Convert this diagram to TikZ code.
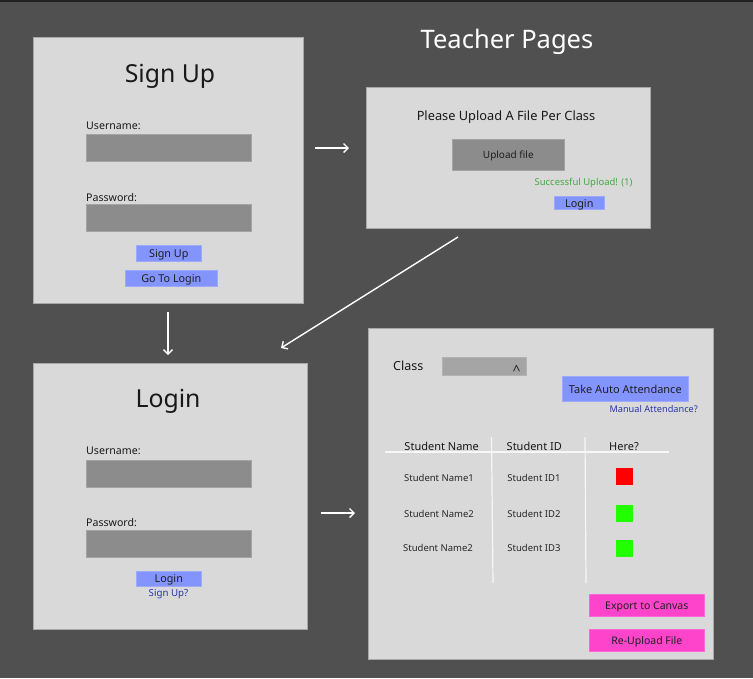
\documentclass[tikz,border=0pt]{standalone}
\usepackage{fontspec}
\setmainfont{Noto Sans}
\usetikzlibrary{arrows.meta}

\definecolor{bg}{HTML}{505050}
\definecolor{topbar}{HTML}{222222}
\definecolor{panel}{HTML}{D9D9D9}
\definecolor{paneledge}{HTML}{A8A8A8}
\definecolor{field}{HTML}{8C8C8C}
\definecolor{dropdown}{HTML}{A5A5A5}
\definecolor{btn}{HTML}{8494FF}
\definecolor{pinkbtn}{HTML}{FF44CC}
\definecolor{linkblue}{HTML}{2A36A8}
\definecolor{okgreen}{HTML}{45A845}
\definecolor{absent}{HTML}{FF0000}
\definecolor{present}{HTML}{22FF00}

\tikzset{
  box/.style={rectangle, inner sep=0pt, anchor=north west},
  panelbox/.style={box, fill=panel, draw=paneledge, line width=0.8pt},
  fieldbox/.style={box, fill=field, draw=field!80!white, line width=0.6pt,
                   minimum width=165pt, minimum height=27pt},
  % button captions are centred on their capitals
  bluebtn/.style={box, fill=btn, draw=btn!80!white, line width=0.6pt,
                  font=\fontsize{10.8}{12}\selectfont, text=black!88,
                  text height=7.8pt, text depth=0pt},
  pinkbutton/.style={box, fill=pinkbtn, draw=pinkbtn!80!white, line width=0.6pt,
                     minimum width=115pt, minimum height=22pt,
                     font=\fontsize{10.5}{12}\selectfont, text=black!88,
                     text height=7.5pt, text depth=0pt},
  txt/.style={inner sep=0pt, anchor=base, text=black!90},
  title/.style={txt, font=\fontsize{24.8}{28}\selectfont},
  label/.style={txt, anchor=base west, font=\fontsize{10.6}{13}\selectfont},
  cell/.style={txt, font=\fontsize{9.5}{11}\selectfont, text=black!85},
  head/.style={txt, font=\fontsize{11}{13}\selectfont},
  checkbox/.style={box, minimum width=17pt, minimum height=17pt},
  flow/.style={draw=white, line width=1.4pt,
               -{Straight Barb[length=4.5pt,width=9pt,line width=1.4pt]}},
  gridline/.style={draw=white!97!black, line width=1.2pt}
}

\begin{document}
\begin{tikzpicture}[x=1pt, y=-1pt]
  % canvas
  \fill[bg] (0,0) rectangle (753,678);
  \fill[topbar] (0,0) rectangle (753,2);
  \useasboundingbox (0,0) rectangle (753,678);

  \node[txt, font=\fontsize{25.5}{30}\selectfont, text=white] (pagetitle) at (507,48.3) {Teacher Pages};

  % ---- Sign Up page ----
  \node[panelbox, minimum width=270pt, minimum height=266pt] (signup) at (33,37) {};
  \node[title] (signuptitle) at (170,82) {Sign Up};
  \node[label] (suuserlbl) at (86,129) {Username:};
  \node[fieldbox] (suuser) at (86,134) {};
  \node[label] (supasslbl) at (86,201.5) {Password:};
  \node[fieldbox] (supass) at (86,204) {};
  \node[bluebtn, minimum width=65pt, minimum height=16pt] (subtn) at (136,245) {Sign Up};
  \node[bluebtn, minimum width=92pt, minimum height=16pt] (gologin) at (125,270) {Go To Login};

  % ---- Upload page ----
  \node[panelbox, minimum width=284pt, minimum height=141pt] (upload) at (366,87) {};
  \node[txt, font=\fontsize{12.8}{15}\selectfont] (uploadhead) at (506,120) {Please Upload A File Per Class};
  \node[box, fill=field, draw=field!80!white, line width=0.6pt, minimum width=112pt, minimum height=31pt,
        font=\fontsize{10}{12}\selectfont, text=black!88, text height=7.2pt, text depth=0pt] (uploadbtn) at (452,139) {Upload file};
  \node[txt, font=\fontsize{9.5}{11}\selectfont, text=okgreen] (uploadok) at (583.5,185.3) {Successful Upload! (1)};
  \node[bluebtn, minimum width=50pt, minimum height=13pt, text height=8.5pt] (uplogin) at (554,196) {Login};

  % ---- Login page ----
  \node[panelbox, minimum width=274pt, minimum height=266pt] (login) at (33,363) {};
  \node[title] (logintitle) at (168,407.7) {Login};
  \node[label] (liuserlbl) at (86,454.3) {Username:};
  \node[fieldbox] (liuser) at (86,460) {};
  \node[label] (lipasslbl) at (86,526.7) {Password:};
  \node[fieldbox] (lipass) at (86,530) {};
  \node[bluebtn, minimum width=65pt, minimum height=15pt] (libtn) at (136,571) {Login};
  \node[txt, font=\fontsize{9.7}{11}\selectfont, text=linkblue] (signuplink) at (168.5,596.5) {Sign Up?};

  % ---- Attendance page ----
  \node[panelbox, minimum width=345pt, minimum height=331pt] (attend) at (368,328) {};
  \node[txt, anchor=base west, font=\fontsize{12.5}{15}\selectfont] (classlbl) at (393,370) {Class};
  \node[box, fill=dropdown, draw=dropdown!85!white, line width=0.6pt, minimum width=84pt, minimum height=18pt] (classsel) at (442,357) {};
  \node[txt, font=\fontsize{14}{16}\selectfont\bfseries, text=black!85] (caret) at (516.7,375) {\string^};
  \node[box, fill=btn, draw=btn!80!white, line width=0.6pt, minimum width=126pt, minimum height=25pt,
        font=\fontsize{11}{13}\selectfont, text=black!88, text height=8.5pt, text depth=0pt] (autobtn) at (562,376) {Take Auto Attendance};
  \node[txt, font=\fontsize{9.2}{11}\selectfont, text=linkblue] (manual) at (653.7,412.3) {Manual Attendance?};

  % table rules
  \coordinate (hl) at (385,452);
  \coordinate (hr) at (669,452);
  \coordinate (v1t) at (491.5,437);
  \coordinate (v1b) at (493,583);
  \coordinate (v2t) at (585,437);
  \coordinate (v2b) at (586,583);
  \draw[gridline] (hl) -- (hr);
  \draw[gridline] (v1t) -- (v1b);
  \draw[gridline] (v2t) -- (v2b);

  % table header
  \node[head] (hname) at (441.7,450) {Student Name};
  \node[head] (hid) at (534.3,450) {Student ID};
  \node[head] (hhere) at (624,450) {Here?};

  % table rows
  \node[cell] (n1) at (439,481) {Student Name1};
  \node[cell] (n2) at (439,517) {Student Name2};
  \node[cell] (n3) at (438,551.7) {Student Name2};
  \node[cell] (i1) at (534,481) {Student ID1};
  \node[cell] (i2) at (534,517) {Student ID2};
  \node[cell] (i3) at (534,551.7) {Student ID3};
  \node[checkbox, fill=absent] (m1) at (616,468) {};
  \node[checkbox, fill=present] (m2) at (616,505) {};
  \node[checkbox, fill=present] (m3) at (616,540) {};

  \node[pinkbutton, xshift=-1pt] (export) at (590,594) {Export to Canvas\hspace{2pt}};
  \node[pinkbutton, xshift=-1pt] (reupload) at (590,629) {Re-Upload File\hspace{2pt}};

  % ---- flow between pages ----
  \coordinate (f1s) at (315,148);
  \coordinate (f1e) at (349,148);
  \coordinate (f2s) at (168,312);
  \coordinate (f2e) at (168,355);
  \coordinate (f3s) at (458,237);
  \coordinate (f3e) at (281,348);
  \coordinate (f4s) at (321,513);
  \coordinate (f4e) at (355,513);
  \draw[flow] (f1s) -- (f1e);
  \draw[flow] (f2s) -- (f2e);
  \draw[flow] (f3s) -- (f3e);
  \draw[flow] (f4s) -- (f4e);
\end{tikzpicture}
\end{document}
